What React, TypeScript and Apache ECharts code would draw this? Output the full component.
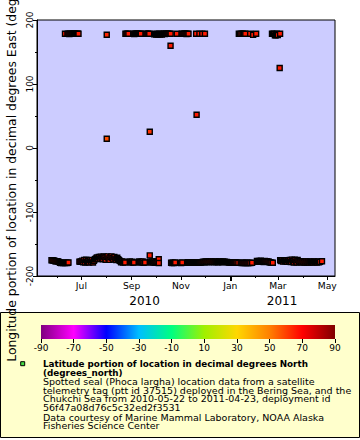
import React, { useEffect, useRef } from "react";
import * as echarts from "echarts";

// deployment start, points are [day since start, longitude (°E), latitude (°N)]
const deploymentStart = "2010-05-22";

const westTrack: number[][] = [
  [3, -175.5, 66], [4.2, -175.4, 66], [5.4, -175.7, 65], [6.6, -176.2, 66], [7.8, -177, 66],
  [9, -177.2, 66], [10.2, -176.8, 65], [11.4, -177.4, 66], [12.6, -178.3, 66], [13.8, -179.2, 66],
  [15, -179.6, 66], [16.2, -179.4, 66], [17.4, -179.8, 65], [18.6, -179.5, 66], [19.8, -179.7, 66],
  [21, -179.3, 66], [22.2, -179.6, 66], [23.2, -179.5, 66], [24, -178.9, 66],
  [37.5, -177.5, 66], [38.7, -177.8, 66], [39.9, -177.2, 66], [41.1, -176, 66], [42.3, -178.5, 66],
  [43.5, -175, 66], [44.7, -179, 66], [45.9, -174.6, 66], [47.1, -178.2, 66], [48.3, -176.5, 66],
  [49.5, -179, 66], [50.7, -175.2, 66], [51.9, -177.6, 66], [53.1, -174.8, 66], [54.3, -178.8, 66],
  [55.5, -176.2, 66], [56.7, -173.8, 66], [57.9, -172.5, 66], [59.1, -171.2, 66], [60.3, -173.5, 66],
  [61.5, -170.4, 66], [62.7, -172.8, 66], [63.9, -169.8, 66], [65.1, -171.6, 66], [66.3, -173.9, 66],
  [67.5, -169.5, 66], [68.7, -171, 66], [69.9, -174.5, 66], [71.1, -170.2, 66], [72.3, -169.4, 66],
  [73.5, -172.4, 66], [74.7, -174.8, 66], [75.9, -170.6, 66], [77.1, -169.3, 66], [78.3, -171.8, 66],
  [79.5, -174.2, 66], [80.7, -170.1, 66], [81.9, -172.9, 66], [83.1, -175, 66], [84.3, -171.4, 66],
  [85.5, -173.6, 66], [86.7, -175.3, 66],
  [87.9, -176.8, 66], [89.1, -178.4, 66], [90.3, -177.2, 66], [91.5, -179, 66], [92.7, -177.6, 66],
  [94, -178.9, 66],
  [99.9, -177.3, 66], [101.1, -178.8, 66], [102.3, -177.5, 66], [103.5, -179.1, 66], [105, -178.9, 66],
  [110.9, -177.4, 66], [112.1, -179, 66], [113.3, -177.8, 66], [114.5, -178.6, 66], [115.7, -177.2, 66],
  [116.9, -179.2, 66], [118.7, -178.9, 66],
  [124.6, -177.6, 66], [125.8, -179.1, 66], [127, -177.3, 66], [128.2, -178.7, 66], [129.4, -177.1, 66],
  [130.6, -179.2, 66], [131.8, -177.8, 66], [133, -178.5, 66], [134.2, -177.4, 66],
  [135.6, -173.8, 66], [135.7, -179.6, 66],
  [150.9, -179.3, 66], [152.1, -179.7, 66], [153.3, -179.4, 66], [154.5, -179.8, 66], [156, -178.9, 66],
  [162, -179.5, 66], [163.2, -179.7, 66], [164.7, -178.9, 66],
  [170.7, -179.2, 66], [171.9, -178.6, 66], [173.1, -179.4, 66], [174.3, -178.7, 66], [175.5, -179.1, 66],
  [176.7, -178.5, 66], [177.9, -179, 66], [179.1, -178.6, 66], [180.3, -178.9, 66], [181.5, -178.4, 66],
  [182.7, -179.1, 66], [183.9, -178.7, 66], [185.1, -178.8, 66], [186.3, -178.5, 66], [187.5, -179, 66],
  [188.7, -178.6, 66], [189.9, -178.2, 66], [191.1, -177.6, 66], [192.3, -178.4, 66], [193.5, -177.3, 66],
  [194.7, -178.1, 66], [195.9, -177.5, 66], [197.1, -178.4, 66], [198.3, -177.4, 66], [199.5, -178, 66],
  [200.7, -177.2, 66], [201.9, -178.3, 66], [203.1, -177.6, 66], [204.3, -178.4, 66], [205.5, -177.3, 66],
  [206.7, -178.2, 66], [207.9, -177.5, 66], [209.1, -178.4, 66], [210.3, -177.4, 66], [211.5, -178.1, 66],
  [212.7, -177.6, 66], [213.9, -178.4, 66], [215.1, -177.3, 66], [216.3, -178, 66], [217.5, -177.7, 66],
  [218.7, -178.3, 66], [219.9, -177.9, 66], [221.1, -178.6, 66], [222.3, -178.9, 66], [223.5, -178.5, 66],
  [224.7, -179, 66], [225.9, -178.6, 66], [227.1, -178.9, 66], [228.3, -178.4, 66], [229.5, -179, 66],
  [230.7, -178.7, 66], [231.9, -178.9, 66], [234, -179.2, 66], [236.9, -179.5, 66], [238.1, -179.7, 66],
  [239.3, -179.4, 66], [240.5, -179.8, 66], [241.7, -179.5, 66], [242.9, -179.7, 66], [244.1, -179.4, 66],
  [245.3, -179.8, 66], [246.5, -179.6, 66], [247.7, -179.5, 66], [248.9, -179.7, 66], [251, -179.4, 66],
  [257, -176.3, 66], [258.2, -178, 66], [259.4, -176.6, 66], [260.6, -177.8, 66], [261.8, -176.2, 66],
  [263, -177.5, 66], [264.2, -176.8, 66], [265.4, -178.1, 66], [266.6, -176.4, 66], [267.8, -177.6, 66],
  [269, -176.9, 66], [270.2, -178, 66], [271.4, -177.2, 66], [272.6, -178.4, 66], [273.8, -178.9, 66],
  [275, -179.1, 66], [276.6, -179.4, 66],
  [285.7, -175.4, 66], [286.9, -176.8, 66], [288.1, -175.6, 66], [289.3, -177.6, 66], [290.5, -175.3, 66],
  [291.7, -176.9, 66], [292.9, -175.8, 66], [294.1, -177.9, 66], [295.3, -175.5, 66], [296.5, -177.2, 66],
  [297.7, -174.9, 66], [298.9, -178.2, 66], [300.1, -174.4, 66], [301.3, -176.5, 66], [302.5, -178.8, 66],
  [303.7, -174.6, 66], [304.9, -177.1, 66], [306.1, -179, 66], [307.3, -174.8, 66], [308.5, -176.7, 66],
  [309.7, -178.6, 66], [310.9, -176.9, 66], [312.1, -178.7, 66], [313.3, -177.2, 66], [314.5, -179, 66],
  [315.7, -177.4, 66], [316.9, -178.8, 66], [318.1, -177.1, 66], [319.3, -178.9, 66], [320.5, -177.5, 66],
  [321.7, -179.1, 66], [322.9, -177.3, 66], [324.1, -178.6, 66], [325.3, -177.6, 66], [326.5, -179, 66],
  [327.7, -177.2, 66], [328.9, -178.5, 66], [330.1, -177.8, 66], [331.3, -179.1, 66], [332.5, -177.4, 66],
  [333.7, -178.7, 66], [335, -177.9, 66], [337.4, -177, 66],
];

const eastTrack: number[][] = [
  [19.7, 178.5, 66], [22.7, 178.3, 66], [23.9, 178.6, 66], [25.1, 178.2, 66], [26.3, 178.5, 66],
  [27.5, 178.7, 66], [28.7, 178.3, 66], [29.9, 178.6, 66], [31.1, 178.4, 66], [32.3, 178.7, 66],
  [33.5, 178.3, 66], [34.7, 178.5, 66], [35.5, 178.4, 66], [36.4, 178.6, 66],
  [94.4, 178.5, 66], [95.6, 178.3, 66], [96.8, 178.6, 66], [98.1, 178.4, 66],
  [104.1, 178.5, 66], [105.3, 178.2, 66], [106.5, 178.6, 66], [107.7, 178.4, 66], [108.9, 178.7, 66],
  [110.1, 178.3, 66], [111.3, 178.5, 66], [112.4, 178.6, 66], [113.4, 178.4, 66],
  [119.4, 178.6, 66], [120.6, 178.3, 66], [121.8, 178.5, 66], [122.9, 178.7, 66], [123.9, 178.4, 66],
  [129.9, 177.8, 66], [131.1, 178.5, 66], [132.3, 177.3, 66], [133.5, 178.2, 66], [134.7, 177.1, 66],
  [135.9, 178.4, 66], [137.1, 177.4, 66], [138.3, 178.6, 66], [139.5, 177.2, 66], [140.7, 178.3, 66],
  [141.9, 178.5, 66], [143.1, 178.2, 66], [144.3, 178.6, 66], [145.5, 178.4, 66], [146.7, 178.7, 66],
  [147.9, 178.3, 66], [149.1, 178.5, 66], [150.3, 178.4, 66], [157.9, 178.5, 66],
  [163.9, 178.6, 66], [165.1, 178.3, 66], [166.3, 178.5, 66], [167.5, 178.7, 66], [168.7, 178.4, 66],
  [169.9, 178.2, 66], [171.1, 178.5, 66], [172.4, 178.4, 66],
  [181.8, 178.5, 66], [185.9, 178.4, 66], [189.4, 178.6, 66], [192.7, 178.4, 66],
  [234.6, 178.5, 66], [236.2, 178.3, 66], [237.8, 178.6, 66], [239.4, 178.4, 66], [241, 178.5, 66],
  [242.6, 178.4, 66], [248.6, 178.5, 66], [252.3, 176.8, 66], [256, 178.4, 66],
  [275.6, 178.5, 66], [276.8, 178.3, 66], [278, 178.6, 66], [279.2, 176, 66], [280.4, 176.2, 66],
  [281.6, 178.4, 66], [282.8, 176.5, 66], [285.6, 178.4, 66],
];

const strays: number[][] = [
  [71.3, 177, 64], [71.3, 14.5, 58], [124.5, 25.3, 62], [124.5, -167.7, 66],
  [150.2, 159.7, 66], [182.4, 51.9, 66], [285.1, 125, 66],
];

const monthTicks = ["2010-07-01", "2010-09-01", "2010-11-01", "2011-01-01", "2011-03-01", "2011-05-01"];
const minorMonthTicks = ["2010-06-01", "2010-08-01", "2010-10-01", "2010-12-01", "2011-02-01", "2011-04-01"];
const yearBoundary = ["2011-01-01"];
const yearLabelDates = ["2010-09-17", "2011-03-06"];
const monthNames = ["Jan", "Feb", "Mar", "Apr", "May", "Jun", "Jul", "Aug", "Sep", "Oct", "Nov", "Dec"];
const latTicks = [-90, -70, -50, -30, -10, 10, 30, 50, 70, 90];
const palette = ["#800080", "#ff00ff", "#0000ff", "#00bfff", "#00ff80", "#a0f000", "#ffd700", "#ff8000", "#ff0000", "#800000"];

const yTitle = "Longitude portion of location in decimal degrees East (degrees_east)";
const legendTitle = ["Latitude portion of location in decimal degrees North", "(degrees_north)"];
const legendBody = [
  "Spotted seal (Phoca largha) location data from a satellite",
  "telemetry tag (ptt id 37515) deployed in the Bering Sea, and the",
  "Chukchi Sea from 2010-05-22 to 2011-04-23, deployment id",
  "56f47a08d76c5c32ed2f3531",
];
const legendCredit = ["Data courtesy of Marine Mammal Laboratory, NOAA Alaska", "Fisheries Science Center"];

const FONT = "DejaVu Sans";

function ts(s: string, hour = 0): number {
  const [y, m, d] = s.split("-").map(Number);
  return new Date(y, m - 1, d, hour).getTime();
}

function buildOption() {
  const start = ts(deploymentStart);
  const toPoint = (p: number[]) => [start + p[0] * 86400000, p[1], p[2]];
  const data = [...westTrack, ...eastTrack, ...strays].map(toPoint);

  const xMin = ts("2010-05-07", 2);
  const xMax = ts("2011-05-10", 12);

  const baseX = {
    type: "value",
    gridIndex: 0,
    position: "bottom",
    min: xMin,
    max: xMax,
    scale: true,
    splitLine: { show: false },
    axisLine: { show: false, onZero: false },
  };

  const stops = palette.map((c, i) => ({ offset: i / (palette.length - 1), color: c }));

  const textBlock = (lines: string[], top: number, lh: number, font: string) => ({
    type: "text", x: 43, y: top,
    style: {
      text: lines.join("\n"), fill: "#000", font, lineHeight: lh,
      textVerticalAlign: "top", textAlign: "left",
    },
  });

  return {
    animation: false,
    textStyle: { fontFamily: FONT, color: "#000" },
    grid: [
      {
        left: 37, top: 20, width: 298, height: 256, show: true, backgroundColor: "#ccccff",
        borderColor: "#000", borderWidth: 1, containLabel: false, outerBoundsMode: "none",
      },
      { left: 41, top: 325, width: 294, height: 14, containLabel: false, outerBoundsMode: "none" },
    ],
    xAxis: [
      {
        ...baseX,
        axisLine: { show: true, onZero: false, lineStyle: { color: "#000", width: 1 } },
        axisTick: { show: true, customValues: monthTicks.map((s) => ts(s)), length: 4, lineStyle: { color: "#000" } },
        axisLabel: {
          show: true, customValues: monthTicks.map((s) => ts(s)), fontSize: 9.2, color: "#000", margin: 5, fontFamily: FONT,
          formatter: (v: number) => monthNames[new Date(v).getMonth()],
        },
      },
      {
        ...baseX,
        axisTick: { show: true, customValues: minorMonthTicks.map((s) => ts(s)), length: 2, lineStyle: { color: "#000" } },
        axisLabel: { show: false },
      },
      {
        ...baseX,
        axisTick: { show: true, customValues: yearBoundary.map((s) => ts(s)), length: 5, lineStyle: { color: "#000", width: 2 } },
        axisLabel: {
          show: true, customValues: yearLabelDates.map((s) => ts(s)), fontSize: 12, color: "#000", margin: 19, fontFamily: FONT,
          formatter: (v: number) => String(new Date(v).getFullYear()),
        },
      },
      {
        type: "value", gridIndex: 1, position: "bottom", min: -90, max: 90,
        axisLine: { show: false },
        axisTick: { show: true, customValues: latTicks, length: 4, lineStyle: { color: "#000" } },
        axisLabel: { show: true, customValues: latTicks, fontSize: 9, color: "#000", margin: 4, fontFamily: FONT },
        splitLine: { show: false },
      },
    ],
    yAxis: [
      {
        type: "value", gridIndex: 0, position: "left", min: -200, max: 200, interval: 100,
        axisLine: { show: true, lineStyle: { color: "#000" } },
        axisTick: { show: true, length: 4, lineStyle: { color: "#000" } },
        minorTick: { show: true, splitNumber: 2, length: 2, lineStyle: { color: "#000" } },
        axisLabel: { rotate: 90, fontSize: 9, color: "#000", margin: 3, fontFamily: FONT },
        splitLine: { show: false },
        name: yTitle,
        nameLocation: "middle",
        nameRotate: 90,
        nameGap: 16,
        nameTextStyle: { fontSize: 12.4, color: "#000", fontFamily: FONT },
      },
      { type: "value", gridIndex: 1, show: false, min: 0, max: 1 },
    ],
    visualMap: {
      type: "continuous", show: false, min: -90, max: 90, dimension: 2, seriesIndex: 0,
      inRange: { color: palette },
    },
    series: [
      {
        type: "scatter",
        xAxisIndex: 0,
        yAxisIndex: 0,
        data,
        symbol: "rect",
        symbolSize: 5,
        itemStyle: { borderColor: "#000", borderWidth: 1.4, opacity: 1 },
        silent: true,
        z: 3,
      },
    ],
    graphic: [
      {
        type: "rect", z: -100,
        shape: { x: 0.5, y: 312.5, width: 359, height: 125 },
        style: { fill: "#ffffcc", stroke: "#000", lineWidth: 1 },
      },
      {
        type: "rect", z: -50,
        shape: { x: 41, y: 325, width: 294, height: 14 },
        style: { fill: new echarts.graphic.LinearGradient(0, 0, 1, 0, stops) },
      },
      {
        type: "rect",
        shape: { x: 20.7, y: 361.7, width: 4, height: 4 },
        style: { fill: "#44dd44", stroke: "#000", lineWidth: 1 },
      },
      textBlock(legendTitle, 359.2, 9.3, `bold 8.8px "${FONT}"`),
      textBlock(legendBody, 377.6, 8.5, `9.5px "${FONT}"`),
      textBlock(legendCredit, 413.2, 8.5, `9.5px "${FONT}"`),
    ],
  };
}

export default function App() {
  const ref = useRef<HTMLDivElement>(null);
  useEffect(() => {
    const chart = echarts.init(ref.current!, null, { renderer: "svg" });
    chart.setOption(buildOption() as any);
    return () => chart.dispose();
  }, []);
  return (
    <div
      ref={ref}
      style={{ position: "absolute", left: 0, top: 0, width: 360, height: 440, background: "#fff" }}
    />
  );
}
